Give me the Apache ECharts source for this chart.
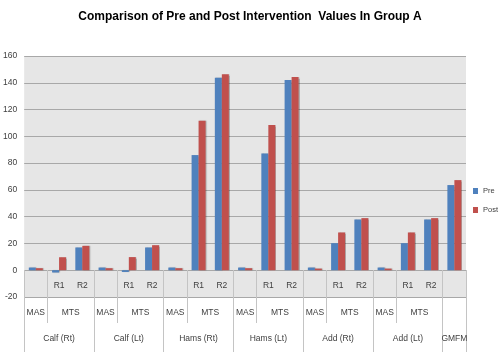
<!DOCTYPE html>
<html><head><meta charset="utf-8">
<script src="https://cdn.jsdelivr.net/npm/echarts@6/dist/echarts.min.js"></script>
<style>html,body{margin:0;padding:0;background:#fff}#c{width:500px;height:352px}</style>
</head><body><div id="c"></div>
<script>
const groups = ['Calf (Rt)', 'Calf (Lt)', 'Hams (Rt)', 'Hams (Lt)', 'Add (Rt)', 'Add (Lt)'];
const measures = ['MAS', 'MTS'];
const mtsLevels = ['R1', 'R2'];
const lastCategory = 'GMFM';
const pre  = [2, -1.7, 17,  2, -1.3, 17,  2, 86, 143.8,  2, 87.2, 142,  2, 20.2, 37.9,  2, 20.2, 37.9,  63.6];
const post = [1.5, 9.7, 18.2,  1.5, 9.8, 18.7,  1.5, 111.6, 146.3,  1.5, 108.4, 144.3,  1.2, 28.2, 38.9,  1.2, 28.2, 38.9,  67.3];
const yTicks = { min: -20, max: 160, interval: 20 };

// leaf categories: MAS, R1, R2 per group, then GMFM
const leaf = [];
groups.forEach(() => { leaf.push(''); mtsLevels.forEach(l => leaf.push(l)); });
leaf.push('');
const N = leaf.length;

const FONT = "'Liberation Sans', Arial, sans-serif";
const lbl = { fontSize: 8.5, color: '#404040', fontFamily: FONT };
const thinLine = { color: '#c4c4c4', width: 1 };

function level2(v) {
  const h = Math.round(v * 2); const k = Math.floor(h / 6); const r = h - 6 * k;
  if (k >= groups.length) return '';
  if (r === 1) return measures[0];
  if (r === 4) return measures[1];
  return '';
}
function level3(v) {
  const h = Math.round(v * 2); const k = Math.floor(h / 6); const r = h - 6 * k;
  if (k < groups.length && r === 3) return groups[k];
  if (h === 2 * N - 1) return lastCategory;
  return '';
}

const chart = echarts.init(document.getElementById('c'), null, { renderer: 'canvas' });
const baseX = { gridIndex: 0, position: 'bottom', axisLine: { show: false, onZero: false }, splitLine: { show: false } };
chart.setOption({
  animation: false,
  title: { text: 'Comparison of Pre and Post Intervention  Values In Group A', left: 'center', top: 6,
    textStyle: { fontSize: 12, fontWeight: 'bold', color: '#000', fontFamily: FONT } },
  legend: { orient: 'vertical', left: 473, top: 187, padding: 0, itemWidth: 5, itemHeight: 6, itemGap: 11, icon: 'rect',
    textStyle: { fontSize: 7.5, color: '#404040', fontFamily: FONT }, data: ['Pre', 'Post'] },
  grid: { left: 22, right: 34, top: 56, bottom: 55, show: true, backgroundColor: '#e6e6e6', borderWidth: 0 },
  yAxis: { type: 'value', min: yTicks.min, max: yTicks.max, interval: yTicks.interval,
    axisLabel: Object.assign({ margin: 7 }, lbl), axisLine: { show: false }, axisTick: { show: false },
    splitLine: { lineStyle: { color: '#a8a8a8', width: 1 } } },
  xAxis: [
    Object.assign({}, baseX, { type: 'category', data: leaf,
      axisTick: { show: true, inside: true, length: 27, lineStyle: thinLine, interval: (i) => i % 3 !== 2 },
      axisLabel: Object.assign({ inside: true, margin: 7, interval: 0 }, lbl) }),
    Object.assign({}, baseX, { type: 'category', data: leaf,
      axisTick: { show: true, length: 26, lineStyle: thinLine, interval: (i) => i % 3 === 1 && i < N - 1 },
      axisLabel: { show: false } }),
    Object.assign({}, baseX, { type: 'category', data: leaf,
      axisTick: { show: true, length: 56, lineStyle: thinLine, interval: (i) => i % 3 === 0 },
      axisLabel: { show: false } }),
    Object.assign({}, baseX, { type: 'value', min: 0, max: N, interval: 0.5, axisTick: { show: false },
      axisLabel: Object.assign({ margin: 11, formatter: level2, showMinLabel: true, showMaxLabel: true }, lbl) }),
    Object.assign({}, baseX, { type: 'value', min: 0, max: N, interval: 0.5, axisTick: { show: false },
      axisLabel: Object.assign({ margin: 37, formatter: level3, showMinLabel: true, showMaxLabel: true }, lbl) })
  ],
  series: [
    { name: 'Pre', type: 'bar', xAxisIndex: 0, yAxisIndex: 0, data: pre, barWidth: 7, barGap: '0%',
      itemStyle: { color: '#4f81bd', shadowColor: 'rgba(0,0,0,0.25)', shadowOffsetX: 1, shadowBlur: 1 } },
    { name: 'Post', type: 'bar', xAxisIndex: 0, yAxisIndex: 0, data: post, barWidth: 7, barGap: '0%',
      itemStyle: { color: '#c0504d', shadowColor: 'rgba(0,0,0,0.25)', shadowOffsetX: 1, shadowBlur: 1 } }
  ]
});
</script></body></html>
